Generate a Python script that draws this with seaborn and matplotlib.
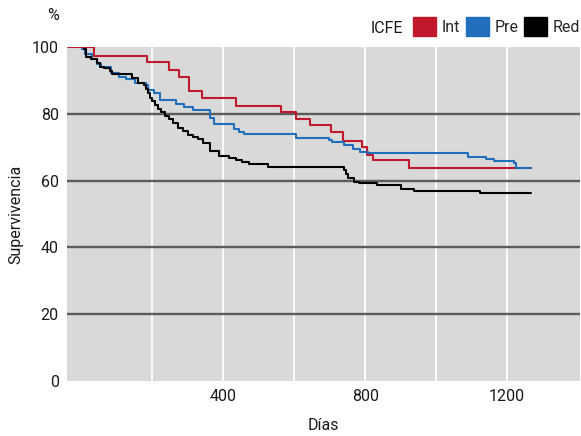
import pandas as pd
import matplotlib
matplotlib.use("Agg")
import matplotlib.pyplot as plt
from matplotlib.patches import Patch
import seaborn as sns

sns.set_theme(style="white")
plt.rcParams['font.family'] = ['Roboto', 'DejaVu Sans']

# curvas de supervivencia (días, %)
dias_int = [-38, 35, 185, 246, 275, 304, 339, 435, 562, 604, 644, 703, 737,
            790, 804, 821, 923]
surv_int = [100, 97.4, 95.5, 93.1, 91.0, 86.8, 84.7, 82.3, 80.5, 78.4, 76.6,
            74.6, 71.9, 70.0, 67.7, 66.2, 63.8]

dias_pre = [1, 10, 30, 44, 55, 83, 106, 125, 151, 182, 187, 204, 221, 266,
            290, 315, 363, 375, 430, 445, 458, 605, 697, 706, 739, 765, 785,
            807, 1089, 1139, 1162, 1218, 1224]
surv_pre = [99.4, 97.8, 96.5, 95.0, 94.0, 92.2, 91.0, 90.4, 89.2, 88.6, 87.1,
            86.2, 84.1, 82.9, 82.0, 81.1, 78.7, 76.9, 75.4, 74.6, 74.0, 72.8,
            72.2, 71.6, 70.7, 69.5, 68.6, 68.3, 67.1, 66.5, 65.9, 65.3, 63.8]

dias_red = [7, 13, 27, 44, 52, 63, 80, 86, 142, 159, 176, 182, 188, 193, 200,
            207, 215, 224, 235, 246, 258, 272, 286, 300, 314, 328, 342, 362,
            387, 415, 435, 452, 472, 525, 739, 745, 751, 768, 782, 833, 900,
            937, 1123]
surv_red = [99.4, 97.0, 96.4, 95.2, 94.0, 93.7, 92.8, 91.9, 90.7, 89.2, 88.6,
            87.5, 86.2, 84.7, 83.8, 82.6, 81.4, 80.5, 79.3, 78.4, 77.2, 75.7,
            74.9, 73.7, 73.1, 72.5, 71.3, 68.9, 67.4, 66.8, 66.2, 65.6, 65.0,
            64.1, 63.2, 62.0, 60.8, 59.6, 59.3, 58.7, 57.5, 56.9, 56.3]

fin_seguimiento = 1266
grupos = ['Int', 'Pre', 'Red']
colores = {'Int': '#c0192b', 'Pre': '#1f6fbd', 'Red': '#000000'}
fs = 11.5
txt = '#1a1a1a'


def km_frame(dias, surv, grupo):
    dias = list(dias) + [fin_seguimiento]
    surv = list(surv) + [surv[-1]]
    return pd.DataFrame({'Días': dias, 'Supervivencia': surv, 'ICFE': grupo})


df = pd.concat([km_frame(dias_int, surv_int, 'Int'),
                km_frame(dias_pre, surv_pre, 'Pre'),
                km_frame(dias_red, surv_red, 'Red')], ignore_index=True)

fig = plt.figure(figsize=(5.81, 4.36), dpi=100)
ax = fig.add_axes([67/581, 1 - 381/436, (580 - 67)/581, (381 - 47)/436])
ax.set_facecolor('#d9d9d9')

for x in range(200, 1400, 200):
    ax.axvline(x, color='white', lw=1.3, zorder=1)
for y in range(20, 100, 20):
    ax.axhline(y, color='#5c5c5c', lw=1.7, zorder=2)

sns.lineplot(data=df, x='Días', y='Supervivencia', hue='ICFE',
             hue_order=grupos, palette=colores, estimator=None,
             drawstyle='steps-post', linewidth=1.5, legend=False,
             ax=ax, zorder=3)

ax.set_xlim(-40, 1405)
ax.set_ylim(0, 100)
ax.set_xticks(range(200, 1400, 200))
ax.set_xticklabels(['', '400', '', '800', '', '1200'])
ax.set_yticks(range(0, 101, 20))
ax.tick_params(length=0, labelsize=fs, pad=6, colors=txt)
ax.set_xlabel('Días', fontsize=fs, color=txt)
ax.set_ylabel('Supervivencia', fontsize=fs, color=txt)
ax.xaxis.set_label_coords(0.5, -0.112)
ax.yaxis.set_label_coords(-0.086, 0.5)
for s in ax.spines.values():
    s.set_visible(False)

fig.text(53/581, 1 - 15/436, '%', fontsize=fs, ha='center', va='center',
         color=txt)
fig.text(403/581, 1 - 28/436, 'ICFE', fontsize=fs, ha='right', va='center',
         color=txt)
handles = [Patch(facecolor=colores[g], edgecolor=colores[g]) for g in grupos]
fig.legend(handles, grupos, ncol=3, loc='upper right',
           bbox_to_anchor=(580/581, 1 - 17/436), frameon=False, fontsize=fs,
           handlelength=1.45, handleheight=1.45, handletextpad=0.35,
           columnspacing=0.35, borderpad=0, borderaxespad=0)

fig.savefig('out.png', dpi=100)
